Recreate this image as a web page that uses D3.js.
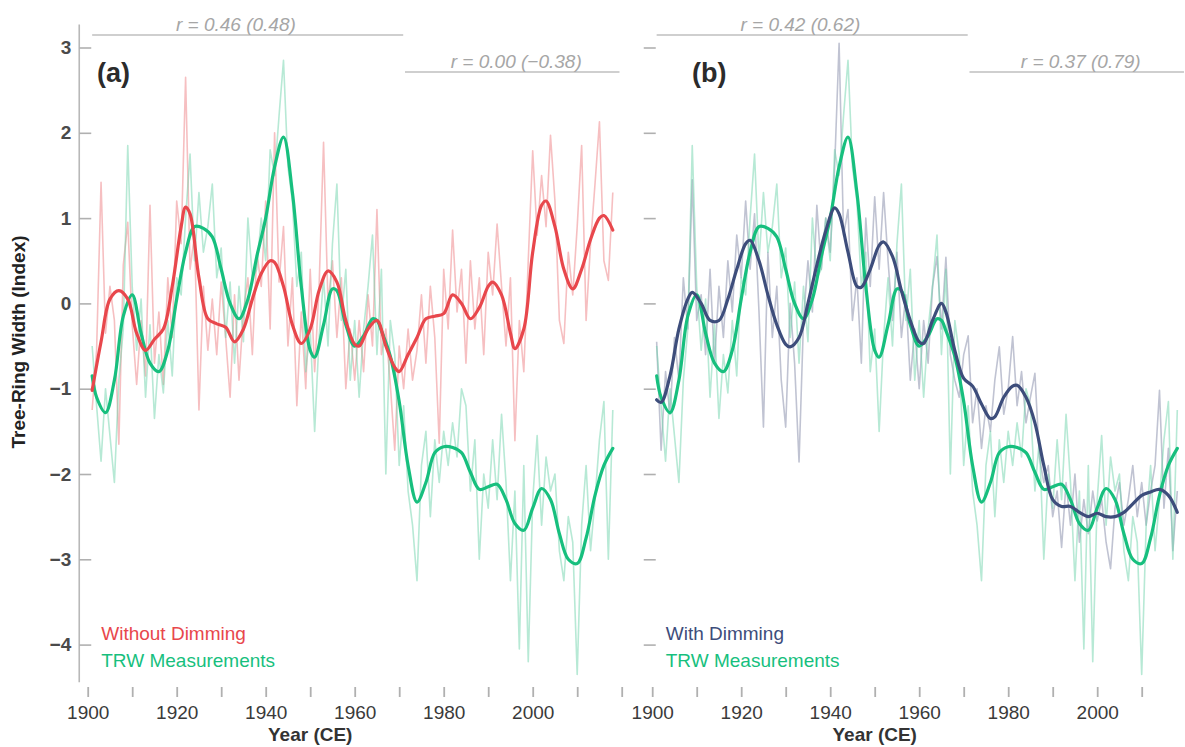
<!DOCTYPE html>
<html>
<head>
<meta charset="utf-8">
<title>Tree-Ring Width</title>
<style>
  body { margin: 0; background: #fff; }
  svg { display: block; font-family: "Liberation Sans", Arial, Helvetica, sans-serif; }
</style>
</head>
<body>
<script src="https://d3js.org/d3.v7.min.js"></script>
<script>
// annual values, one per year 1901..2018
const years = d3.range(1901, 2019);

const trwAnnual = [
  -0.50, -1.20, -1.85, -1.00, -1.55, -2.10, -0.90, -0.30, 1.85, 0.20,
  -0.55, 0.05, -1.10, -0.25, -1.35, -0.60, -1.05, -0.20, -0.85, 0.30,
  0.10, 1.00, 1.75, 0.50, 1.30, 0.60, 0.90, 1.40, 0.30, 0.65,
  -0.40, 0.25, -0.70, 0.20, -0.45, 1.00, 0.30, 0.40, 1.00, 0.50,
  1.80, 1.50, 2.20, 2.85, 1.60, 1.20, 0.20, 0.60, -0.80, -0.30,
  -1.50, -0.40, 0.30, -0.50, 0.70, 1.40, -0.20, 0.40, -0.90, -0.20,
  -1.10, -0.30, 0.20, 0.80, -0.60, 0.40, -2.00, -0.20, -0.60, -1.90,
  -1.20, -2.20, -2.60, -3.25, -1.90, -1.50, -2.50, -1.60, -2.10, -1.50,
  -1.90, -1.40, -1.80, -1.00, -1.20, -2.20, -1.60, -3.00, -2.00, -2.40,
  -1.60, -2.30, -1.30, -2.10, -3.25, -2.20, -4.05, -1.90, -4.20, -2.30,
  -1.55, -2.60, -1.80, -2.20, -2.00, -2.90, -3.25, -2.50, -2.80, -4.35,
  -2.60, -1.90, -2.90, -2.30, -1.60, -1.15, -3.00, -1.25
];

const withoutAnnual = [
  -1.25, -0.55, 1.42, -0.35, 0.20, -0.20, -1.65, 0.45, 0.95, -0.25,
  -0.95, -0.20, -0.85, 1.15, -0.70, -0.10, -0.95, 0.30, -0.40, 1.20,
  0.70, 2.65, 0.40, 0.80, -1.25, 0.20, -0.55, 0.05, -0.60, 0.25,
  -0.40, -1.10, 0.10, -0.90, -0.10, 0.30, -0.60, 0.60, 0.20, 1.20,
  -0.30, 2.00, 0.25, 0.90, -0.50, 0.30, -1.20, -0.10, -1.00, 0.40,
  -0.80, 0.20, 1.89, 0.00, 0.50, -0.40, 0.30, -1.00, -0.30, -0.90,
  -0.20, -0.80, 0.10, -0.50, 1.10, -0.60, -0.30, -0.95, -1.72, -0.50,
  -1.00, -0.30, -0.90, -0.55, 0.10, -0.70, 0.20, -0.40, -1.64, 0.40,
  -0.30, 0.86, -0.10, 0.40, -0.70, 0.50, -0.30, 0.30, -0.60, 0.60,
  0.10, 0.93, 0.20, -0.50, 0.30, -1.61, -0.20, -0.80, 0.50, 1.79,
  0.80, 1.50, 0.90, 1.97, 1.20, -0.20, -0.47, 0.60, 0.10, 0.90,
  1.85, -0.20, 0.70, 1.40, 2.13, 0.50, 0.27, 1.30
];

const withAnnual = [
  -0.45, -1.72, -0.80, -1.30, -0.40, -0.90, 0.30, -0.30, 1.45, -0.20,
  0.10, -0.60, 0.40, -0.70, 0.20, -0.40, 0.50, -0.10, 0.80, 0.30,
  1.20, 0.40, 1.05, -0.10, -1.45, 0.60, -0.40, 0.20, -0.90, -1.45,
  0.00, -0.70, -1.86, -0.20, 0.50, -0.10, 1.15, 0.40, 1.00, 0.60,
  1.60, 3.05, 0.80, 1.10, -0.20, 0.30, -0.70, 1.00, 0.20, 1.25,
  0.40, 1.30, 0.50, -0.20, 0.60, -0.40, 0.10, -0.90, -0.30, -1.00,
  -0.20, -0.70, 0.20, 0.55, -0.30, 0.54, -0.60, -0.90, -1.10, -0.60,
  -0.38, -1.40, -1.00, -1.70, -1.20, -1.50, -0.90, -0.51, -1.30, -1.00,
  -0.39, -1.20, -0.80, -1.40, -1.10, -0.82, -1.80, -2.10, -1.90, -2.50,
  -2.20, -2.86, -2.10, -2.60, -2.00, -2.80, -2.30, -2.70, -2.20, -2.55,
  -2.30, -2.80, -3.11, -2.40, -2.10, -2.60, -2.30, -1.90, -2.50, -2.10,
  -2.60, -2.20, -1.90, -1.02, -2.40, -1.70, -2.90, -2.20
];

// smoothed curves, [year, value]
const trwSmooth = [
  [1901, -0.85], [1902, -1.10], [1904, -1.28], [1906, -0.90], [1908, -0.15], [1910, 0.10],
  [1912, -0.35], [1914, -0.70], [1916, -0.80], [1918, -0.55], [1920, 0.05], [1922, 0.60],
  [1924, 0.90], [1926, 0.88], [1928, 0.78], [1930, 0.40], [1932, 0.00], [1934, -0.18],
  [1936, 0.05], [1938, 0.55], [1940, 1.00], [1942, 1.60], [1944, 1.95], [1946, 1.30],
  [1948, 0.20], [1950, -0.55], [1951, -0.63], [1953, -0.25], [1955, 0.17], [1956, 0.15],
  [1958, -0.25], [1960, -0.50], [1962, -0.38], [1964, -0.18], [1965, -0.20], [1966, -0.32],
  [1968, -0.62], [1970, -1.15], [1972, -1.90], [1974, -2.33], [1976, -2.10], [1978, -1.75],
  [1980, -1.68], [1982, -1.69], [1984, -1.75], [1986, -1.98], [1988, -2.18], [1990, -2.15],
  [1992, -2.12], [1994, -2.30], [1996, -2.58], [1998, -2.66], [2000, -2.40], [2002, -2.17],
  [2004, -2.30], [2006, -2.70], [2008, -3.00], [2010, -3.05], [2012, -2.75], [2014, -2.25],
  [2016, -1.90], [2018, -1.70]
];

const withoutSmooth = [
  [1901, -1.02], [1903, -0.45], [1905, 0.05], [1907, 0.15], [1909, 0.05], [1911, -0.35],
  [1913, -0.55], [1915, -0.42], [1917, -0.30], [1919, 0.20], [1921, 0.90], [1922, 1.13],
  [1923, 1.05], [1925, 0.30], [1927, -0.18], [1929, -0.24], [1931, -0.28], [1933, -0.45],
  [1935, -0.30], [1937, 0.05], [1939, 0.35], [1941, 0.50], [1942, 0.48], [1944, 0.20],
  [1946, -0.25], [1948, -0.47], [1950, -0.30], [1952, 0.15], [1954, 0.38], [1956, 0.25],
  [1958, -0.20], [1960, -0.48], [1961, -0.50], [1963, -0.30], [1965, -0.20], [1967, -0.50],
  [1969, -0.75], [1970, -0.80], [1972, -0.60], [1974, -0.40], [1976, -0.18], [1978, -0.15],
  [1980, -0.12], [1982, 0.10], [1984, 0.00], [1986, -0.18], [1988, -0.05], [1990, 0.20],
  [1991, 0.25], [1993, 0.10], [1995, -0.35], [1996, -0.53], [1998, -0.30], [2000, 0.60],
  [2002, 1.15], [2003, 1.20], [2005, 0.90], [2007, 0.40], [2009, 0.17], [2011, 0.40],
  [2013, 0.75], [2015, 1.00], [2016, 1.03], [2018, 0.86]
];

const withSmooth = [
  [1901, -1.13], [1902, -1.16], [1904, -0.85], [1906, -0.30], [1908, 0.05], [1909, 0.13],
  [1911, 0.00], [1913, -0.20], [1915, -0.20], [1917, 0.05], [1919, 0.40], [1921, 0.70],
  [1922, 0.74], [1924, 0.50], [1926, 0.10], [1928, -0.25], [1930, -0.48], [1931, -0.51],
  [1933, -0.40], [1935, 0.00], [1937, 0.45], [1939, 0.85], [1941, 1.12], [1942, 1.05],
  [1944, 0.60], [1946, 0.20], [1947, 0.19], [1949, 0.40], [1951, 0.68], [1952, 0.72],
  [1954, 0.55], [1956, 0.15], [1958, -0.20], [1960, -0.45], [1961, -0.47], [1963, -0.20],
  [1965, 0.00], [1966, -0.10], [1968, -0.55], [1970, -0.88], [1972, -0.97], [1974, -1.18],
  [1976, -1.35], [1977, -1.33], [1979, -1.10], [1981, -0.97], [1982, -0.96], [1984, -1.10],
  [1986, -1.40], [1988, -1.90], [1990, -2.30], [1992, -2.38], [1994, -2.38], [1996, -2.45],
  [1998, -2.50], [2000, -2.46], [2002, -2.50], [2004, -2.50], [2006, -2.45], [2008, -2.35],
  [2010, -2.25], [2012, -2.21], [2014, -2.18], [2016, -2.25], [2018, -2.45]
];

// correlation labels over the two periods
const corrPeriods = [[1901, 1970.9], [1971.3, 2019.5]];
const corrLabelsA = ["r = 0.46 (0.48)", "r = 0.00 (\u22120.38)"];
const corrLabelsB = ["r = 0.42 (0.62)", "r = 0.37 (0.79)"];

const yTicks = [-4, -3, -2, -1, 0, 1, 2, 3];
const xTicks = d3.range(1900, 2021, 10);
const xLabelled = [1900, 1920, 1940, 1960, 1980, 2000];

const W = 1185, H = 747;
const svg = d3.select("body").append("svg").attr("width", W).attr("height", H);

const y = d3.scaleLinear().domain([-4, 3]).range([644.6, 47.5]);

const panels = [
  { tag: "(a)", x0: 87.7, tagX: 97, annual: withoutAnnual, smooth: withoutSmooth,
    name: "Without Dimming", col: "#e8474c", light: "#ee8a8e", corr: corrLabelsA, labels: true },
  { tag: "(b)", x0: 652.2, tagX: 692, annual: withAnnual, smooth: withSmooth,
    name: "With Dimming", col: "#3d4d7b", light: "#8d92ad", corr: corrLabelsB, labels: false }
];

const green = "#17bf7e", greenLight = "#6fd3ab";

panels.forEach(p => {
  const x = d3.scaleLinear().domain([1900, 2020]).range([p.x0, p.x0 + 534]);
  const g = svg.append("g");
  const axX = x(1898.1);

  // y axis
  if (p.labels) {
    g.append("line")
      .attr("x1", axX).attr("x2", axX)
      .attr("y1", y(3.27)).attr("y2", y(-4.44))
      .attr("stroke", "#b8b8b8").attr("stroke-width", 1.6);
  }
  const yAxis = d3.axisLeft(y).tickValues(yTicks)
    .tickSizeInner(-12).tickSizeOuter(0).tickPadding(8)
    .tickFormat(d => p.labels ? (d < 0 ? "\u2212" + Math.abs(d) : d) : "");
  const ya = g.append("g").attr("transform", `translate(${axX},0)`).call(yAxis);
  ya.select(".domain").remove();
  ya.selectAll(".tick line").attr("stroke", "#b0b0b0").attr("stroke-width", 1.6);
  ya.selectAll(".tick text").attr("font-size", 19).attr("font-weight", "bold")
    .attr("fill", "#4a4a4a").attr("font-family", "Liberation Sans, Arial, sans-serif");

  // x axis
  const xAxis = d3.axisBottom(x).tickValues(xTicks)
    .tickSizeInner(10).tickSizeOuter(0).tickPadding(9)
    .tickFormat(d => xLabelled.includes(d) ? d : "");
  const xa = g.append("g").attr("transform", "translate(0,687)").call(xAxis);
  xa.select(".domain").remove();
  xa.selectAll(".tick line").attr("stroke", "#b0b0b0").attr("stroke-width", 1.8);
  xa.selectAll(".tick text").attr("font-size", 19).attr("fill", "#3a3a3a")
    .attr("font-family", "Liberation Sans, Arial, sans-serif");

  g.append("text").attr("x", x(1950)).attr("y", 741)
    .attr("text-anchor", "middle").attr("font-size", 19).attr("font-weight", "bold")
    .attr("fill", "#333").text("Year (CE)");

  // correlation bars
  corrPeriods.forEach((per, i) => {
    const ly = i === 0 ? 35 : 72;
    g.append("line")
      .attr("x1", x(per[0])).attr("x2", x(per[1]))
      .attr("y1", ly).attr("y2", ly)
      .attr("stroke", "#cfcfcf").attr("stroke-width", 2);
    const cx = i === 0 ? x(1933.3) : x(1996.3);
    g.append("text").attr("x", cx).attr("y", ly - 4.5)
      .attr("text-anchor", "middle").attr("font-size", 19).attr("font-style", "italic")
      .attr("fill", "#a6a6a6").text(p.corr[i]);
  });

  // panel tag
  g.append("text").attr("x", p.tagX).attr("y", 82)
    .attr("font-size", 27).attr("font-weight", "bold").attr("fill", "#2b2b2b").text(p.tag);

  const annualLine = d3.line().x((d, i) => x(years[i])).y(d => y(d));
  const smoothLine = d3.line().x(d => x(d[0])).y(d => y(d[1]))
    .curve(d3.curveCatmullRom.alpha(0.5));

  g.append("path").datum(p.annual).attr("d", annualLine)
    .attr("fill", "none").attr("stroke", p.light).attr("stroke-width", 1.6)
    .attr("stroke-opacity", 0.55).attr("stroke-linejoin", "round");
  g.append("path").datum(trwAnnual).attr("d", annualLine)
    .attr("fill", "none").attr("stroke", greenLight).attr("stroke-width", 1.6)
    .attr("stroke-opacity", 0.5).attr("stroke-linejoin", "round");

  g.append("path").datum(trwSmooth).attr("d", smoothLine)
    .attr("fill", "none").attr("stroke", green).attr("stroke-width", 3.2)
    .attr("stroke-linejoin", "round").attr("stroke-linecap", "round");
  g.append("path").datum(p.smooth).attr("d", smoothLine)
    .attr("fill", "none").attr("stroke", p.col).attr("stroke-width", 3.2)
    .attr("stroke-linejoin", "round").attr("stroke-linecap", "round");

  // legend
  const lx = axX + 22;
  g.append("text").attr("x", lx).attr("y", 640).attr("font-size", 19)
    .attr("fill", p.col).text(p.name);
  g.append("text").attr("x", lx).attr("y", 667).attr("font-size", 19)
    .attr("fill", green).text("TRW Measurements");
});

// y axis title
svg.append("text")
  .attr("transform", "translate(25,342) rotate(-90)")
  .attr("text-anchor", "middle").attr("font-size", 19).attr("font-weight", "bold")
  .attr("fill", "#222").text("Tree-Ring Width (Index)");
</script>
</body>
</html>
